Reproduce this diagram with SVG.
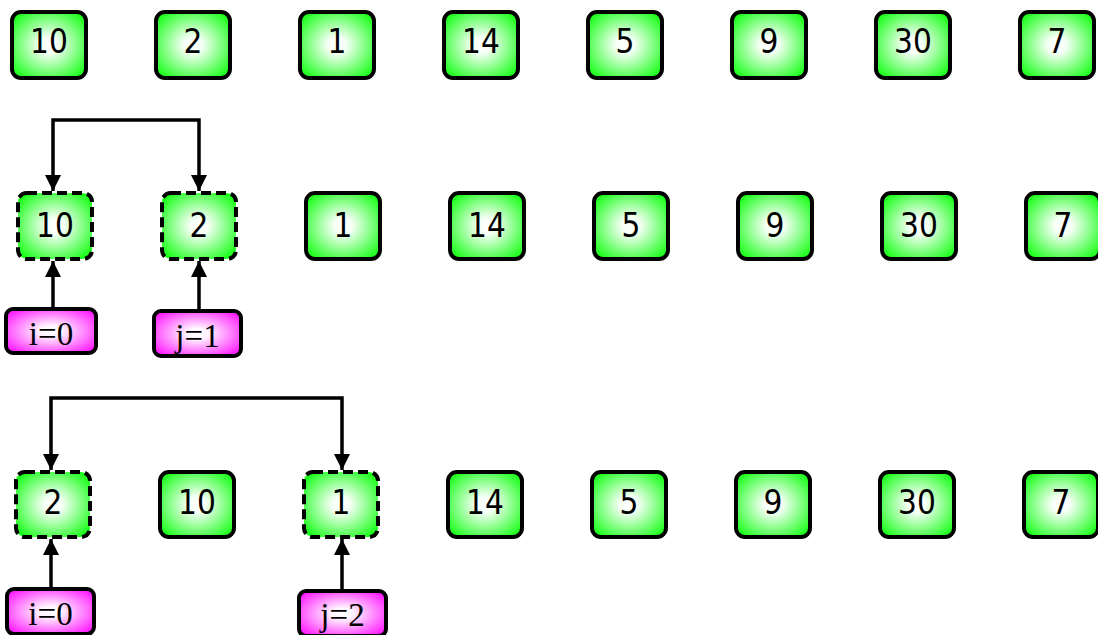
<svg xmlns="http://www.w3.org/2000/svg" width="1098" height="635" viewBox="0 0 1098 635">
<defs>
<radialGradient id="gg" cx="50%" cy="50%" r="62%">
<stop offset="0" stop-color="#ffffff"/>
<stop offset="0.2" stop-color="#f6fff6"/>
<stop offset="1" stop-color="#1aff1a"/>
</radialGradient>
<radialGradient id="pg" cx="50%" cy="50%" r="62%">
<stop offset="0" stop-color="#ffffff"/>
<stop offset="0.2" stop-color="#fff4ff"/>
<stop offset="1" stop-color="#ff1aff"/>
</radialGradient>
<marker id="ah" markerUnits="userSpaceOnUse" markerWidth="16" markerHeight="16" viewBox="0 0 16 16" refX="16" refY="8" orient="auto-start-reverse">
<path d="M0,0 L16,8 L0,16 Z" fill="#000"/>
</marker>
<style>
.b{fill:url(#gg);stroke:#000;stroke-width:4}
.d{fill:url(#gg);stroke:#000;stroke-width:4;stroke-dasharray:10 5}
.p{fill:url(#pg);stroke:#000;stroke-width:4}
.n{font-family:"DejaVu Sans Condensed","DejaVu Sans",sans-serif;font-size:33px;text-anchor:middle;fill:#000}
.t{font-family:"Liberation Serif",serif;font-size:33px;text-anchor:middle;fill:#000}
.c{fill:none;stroke:#000;stroke-width:3.5}
</style>
</defs>
<g id="row1">
<g id="r1n0"><rect class="b" x="12" y="12" width="74" height="66" rx="9"/><text class="n" x="49" y="53">10</text></g>
<g id="r1n1"><rect class="b" x="156" y="12" width="74" height="66" rx="9"/><text class="n" x="193" y="53">2</text></g>
<g id="r1n2"><rect class="b" x="300" y="12" width="74" height="66" rx="9"/><text class="n" x="337" y="53">1</text></g>
<g id="r1n3"><rect class="b" x="444" y="12" width="74" height="66" rx="9"/><text class="n" x="481" y="53">14</text></g>
<g id="r1n4"><rect class="b" x="588" y="12" width="74" height="66" rx="9"/><text class="n" x="625" y="53">5</text></g>
<g id="r1n5"><rect class="b" x="732" y="12" width="74" height="66" rx="9"/><text class="n" x="769" y="53">9</text></g>
<g id="r1n6"><rect class="b" x="876" y="12" width="74" height="66" rx="9"/><text class="n" x="913" y="53">30</text></g>
<g id="r1n7"><rect class="b" x="1020" y="12" width="74" height="66" rx="9"/><text class="n" x="1057" y="53">7</text></g>
</g>
<g id="row2">
<g id="r2n0"><rect class="d" x="18" y="193" width="74" height="66" rx="9"/><text class="n" x="55" y="237">10</text></g>
<g id="r2n1"><rect class="d" x="162" y="193" width="74" height="66" rx="9"/><text class="n" x="199" y="237">2</text></g>
<g id="r2n2"><rect class="b" x="306" y="193" width="74" height="66" rx="9"/><text class="n" x="343" y="237">1</text></g>
<g id="r2n3"><rect class="b" x="450" y="193" width="74" height="66" rx="9"/><text class="n" x="487" y="237">14</text></g>
<g id="r2n4"><rect class="b" x="594" y="193" width="74" height="66" rx="9"/><text class="n" x="631" y="237">5</text></g>
<g id="r2n5"><rect class="b" x="738" y="193" width="74" height="66" rx="9"/><text class="n" x="775" y="237">9</text></g>
<g id="r2n6"><rect class="b" x="882" y="193" width="74" height="66" rx="9"/><text class="n" x="919" y="237">30</text></g>
<g id="r2n7"><rect class="b" x="1026" y="193" width="74" height="66" rx="9"/><text class="n" x="1063" y="237">7</text></g>
<g id="r2i"><rect class="p" x="6" y="309" width="90" height="44" rx="7"/><text class="t" x="51" y="345">i=0</text></g>
<g id="r2j"><rect class="p" x="154" y="311" width="87" height="45" rx="7"/><text class="t" x="197.5" y="347">j=1</text></g>
</g>
<g id="row3">
<g id="r3n0"><rect class="d" x="16" y="472" width="74" height="65" rx="9"/><text class="n" x="53" y="514">2</text></g>
<g id="r3n1"><rect class="b" x="160" y="472" width="74" height="65" rx="9"/><text class="n" x="197" y="514">10</text></g>
<g id="r3n2"><rect class="d" x="304" y="472" width="74" height="65" rx="9"/><text class="n" x="341" y="514">1</text></g>
<g id="r3n3"><rect class="b" x="448" y="472" width="74" height="65" rx="9"/><text class="n" x="485" y="514">14</text></g>
<g id="r3n4"><rect class="b" x="592" y="472" width="74" height="65" rx="9"/><text class="n" x="629" y="514">5</text></g>
<g id="r3n5"><rect class="b" x="736" y="472" width="74" height="65" rx="9"/><text class="n" x="773" y="514">9</text></g>
<g id="r3n6"><rect class="b" x="880" y="472" width="74" height="65" rx="9"/><text class="n" x="917" y="514">30</text></g>
<g id="r3n7"><rect class="b" x="1024" y="472" width="74" height="65" rx="9"/><text class="n" x="1061" y="514">7</text></g>
<g id="r3i"><rect class="p" x="7" y="589" width="87" height="45" rx="7"/><text class="t" x="50.5" y="625">i=0</text></g>
<g id="r3j"><rect class="p" x="299" y="591" width="87" height="45" rx="7"/><text class="t" x="342.5" y="626">j=2</text></g>
</g>
<g id="connectors">
<path class="c" d="M53,191 V120 H199 V191" marker-start="url(#ah)" marker-end="url(#ah)"/>
<path class="c" d="M53,307 V261" marker-end="url(#ah)"/>
<path class="c" d="M199,309 V261" marker-end="url(#ah)"/>
<path class="c" d="M51,470 V398 H342 V470" marker-start="url(#ah)" marker-end="url(#ah)"/>
<path class="c" d="M51,587 V539" marker-end="url(#ah)"/>
<path class="c" d="M342,589 V539" marker-end="url(#ah)"/>
</g>
</svg>
